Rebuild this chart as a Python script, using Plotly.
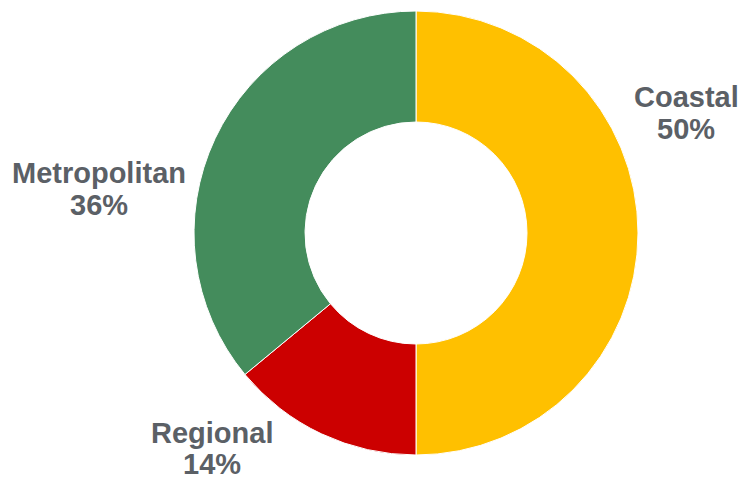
import plotly.graph_objects as go

categories = ["Coastal", "Regional", "Metropolitan"]
values = [50, 14, 36]
colors = ["#FFC000", "#CC0000", "#448C5C"]

W, H = 741, 478
# label anchor centres (pixel) for each category: (x, cap-centre y line1, line2)
label_px = {"Coastal": (686, 97, 129), "Regional": (212, 433, 464), "Metropolitan": (99, 173, 205)}

fig = go.Figure(go.Pie(
    labels=categories, values=values, hole=0.5, sort=False, direction="clockwise",
    rotation=0, marker=dict(colors=colors, line=dict(color="white", width=1)),
    textinfo="none", hoverinfo="label+percent", showlegend=False,
    domain=dict(x=[194 / W, 638 / W], y=[(H - 455) / H, (H - 11) / H]),
))

total = sum(values)
font = dict(family="Liberation Sans, Arial, sans-serif", size=29, color="#5B6066")
for cat, v in zip(categories, values):
    x, y1, y2 = label_px[cat]
    for txt, yy in ((cat, y1), (f"{round(100 * v / total)}%", y2)):
        fig.add_annotation(text=f"<b>{txt}</b>", x=x / W, y=1 - yy / H, xref="paper", yref="paper",
                           xanchor="center", yanchor="middle", showarrow=False, font=font)

fig.update_layout(width=W, height=H, margin=dict(l=0, r=0, t=0, b=0),
                  paper_bgcolor="white", plot_bgcolor="white")
fig.write_html("out.html")
